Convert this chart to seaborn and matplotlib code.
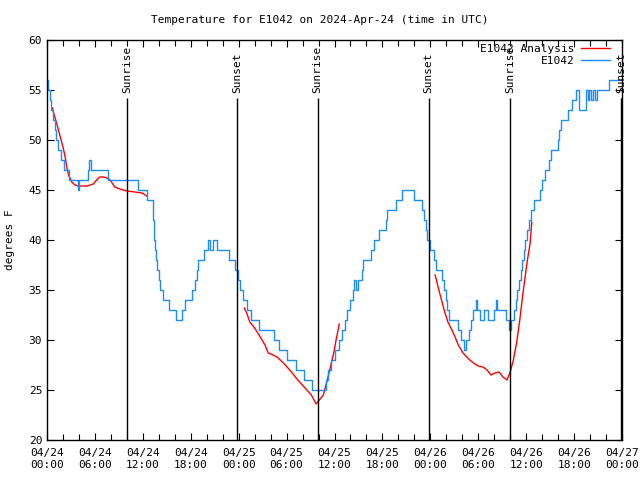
import numpy as np
import pandas as pd
import matplotlib
matplotlib.use("Agg")
import matplotlib.pyplot as plt
import seaborn as sns
from matplotlib.lines import Line2D

# ---- data (hours since 2024-04-24 00:00 UTC, degrees F) ----
obs_hours = [0.0, 0.15, 0.35, 0.55, 0.75, 0.95, 1.15, 1.4, 1.7, 2.1, 2.7, 3.9, 4.05, 5.1, 5.3, 5.55,
             7.65, 11.35, 12.55, 13.25, 13.3, 13.35, 13.45, 13.55, 13.65, 13.8, 14.0, 14.2, 14.5,
             15.3, 16.15, 16.85, 17.3, 18.2, 18.5, 18.75, 18.95, 19.6, 20.1, 20.35, 20.75, 21.3,
             22.8, 23.6, 23.9, 24.2, 24.5, 25.1, 25.5, 26.6, 28.4, 29.1, 30.1, 31.2, 32.2, 33.2,
             34.9, 35.2, 35.6, 36.0, 36.6, 37.0, 37.3, 37.6, 37.9, 38.3, 38.5, 38.75, 38.95,
             39.5, 39.6, 40.6, 41.0, 41.6, 42.4, 42.6, 43.7, 44.5, 45.9, 47.0, 47.2, 47.4, 47.6,
             48.0, 48.5, 48.7, 49.4, 49.7, 49.9, 50.1, 50.4, 51.5, 51.8, 52.2, 52.5, 52.9, 53.1,
             53.3, 53.7, 53.9, 54.2, 54.7, 55.2, 56.0, 56.2, 56.4, 57.5, 57.8, 58.1, 58.5, 58.7,
             58.9, 59.1, 59.3, 59.5, 59.7, 59.9, 60.1, 60.3, 60.6, 61.0, 61.75, 61.95, 62.35,
             62.9, 63.1, 63.95, 64.1, 64.3, 65.2, 65.8, 66.25, 66.6, 67.5, 67.7, 67.9, 68.1,
             68.4, 68.6, 68.9, 70.35, 72.0]
obs_temps = [56, 55, 54, 53, 52, 51, 50, 49, 48, 47, 46, 45, 46, 47, 48, 47,
             46, 45, 44, 43, 42, 41, 40, 39, 38, 37, 36, 35, 34,
             33, 32, 33, 34, 35, 36, 37, 38, 39, 40, 39, 40, 39,
             38, 37, 36, 35, 34, 33, 32, 31, 30, 29, 28, 27, 26, 25,
             26, 27, 28, 29, 30, 31, 32, 33, 34, 35, 36, 35, 36,
             37, 38, 39, 40, 41, 42, 43, 44, 45, 44, 43, 42, 41, 40,
             39, 38, 37, 36, 35, 34, 33, 32, 31, 30, 29, 30, 31, 32,
             33, 34, 33, 32, 33, 32, 33, 34, 33, 32, 31, 32, 33, 34,
             35, 36, 37, 38, 39, 40, 41, 42, 43, 44, 45, 46, 47,
             48, 49, 50, 51, 52, 53, 54, 55, 53, 55, 54, 55, 54,
             55, 54, 55, 56, 56]

ana_seg1_hours = [0.7, 0.8, 1.2, 1.6, 2.0, 2.3, 2.5, 2.7, 3.1, 3.5, 3.9, 5.0, 5.8, 6.2, 6.6, 7.1,
                  7.5, 7.9, 8.5, 9.1, 10.0, 11.0, 11.9, 12.5]
ana_seg1_temps = [53.2, 52.8, 51.7, 50.5, 49.3, 48.2, 47.2, 46.5, 45.8, 45.5, 45.4, 45.4, 45.6, 46.0,
                  46.3, 46.3, 46.2, 46.0, 45.3, 45.1, 44.9, 44.8, 44.7, 44.4]
ana_seg2_hours = [24.7, 25.0, 25.4, 26.0, 26.7, 27.3, 27.7, 28.3, 28.8, 29.6, 30.4, 31.3, 32.2, 33.1,
                  33.7, 34.0, 34.6, 35.0, 35.4, 35.9, 36.2, 36.6]
ana_seg2_temps = [33.2, 32.7, 31.8, 31.2, 30.3, 29.5, 28.7, 28.5, 28.3, 27.7, 27.0, 26.1, 25.3, 24.5,
                  23.6, 23.9, 24.5, 25.7, 27.0, 28.7, 30.0, 31.6]
ana_seg3_hours = [48.6, 49.0, 49.4, 49.8, 50.2, 50.7, 51.1, 51.5, 52.1, 52.8, 53.4, 54.0, 54.6, 55.1,
                  55.6, 56.1, 56.6, 57.1, 57.6, 58.0, 58.4, 58.8, 59.2, 59.6, 60.1, 60.5, 60.7]
ana_seg3_temps = [36.5, 35.2, 34.0, 32.8, 31.8, 31.0, 30.3, 29.5, 28.7, 28.1, 27.7, 27.4, 27.3, 27.0,
                  26.5, 26.7, 26.8, 26.3, 26.0, 26.8, 28.0, 29.7, 32.0, 34.7, 37.7, 39.7, 41.8]

sun_hours = [10.0, 23.8, 33.9, 47.8, 58.0, 71.9]
sun_labels = ["Sunrise", "Sunset", "Sunrise", "Sunset", "Sunrise", "Sunset"]

xtick_hours = [0, 6, 12, 18, 24, 30, 36, 42, 48, 54, 60, 66, 72]
xtick_labels = ["04/24\n00:00", "04/24\n06:00", "04/24\n12:00", "04/24\n18:00",
                "04/25\n00:00", "04/25\n06:00", "04/25\n12:00", "04/25\n18:00",
                "04/26\n00:00", "04/26\n06:00", "04/26\n12:00", "04/26\n18:00",
                "04/27\n00:00"]
ytick_values = [20, 25, 30, 35, 40, 45, 50, 55, 60]

title = "Temperature for E1042 on 2024-Apr-24 (time in UTC)"
ylabel = "degrees F"
legend_labels = ["E1042 Analysis", "E1042"]

# ---- plotting ----
plt.rcParams['font.family'] = ['DejaVu Sans Mono']
plt.rcParams['font.size'] = 8

fig = plt.figure(figsize=(6.4, 4.8), dpi=100)
ax = fig.add_axes([47/640, 1-440/480, 575/640, 400/480])

red = '#ff0000'
blue = '#1a8cff'

ana = pd.DataFrame({
    'hour': ana_seg1_hours + ana_seg2_hours + ana_seg3_hours,
    'temp': ana_seg1_temps + ana_seg2_temps + ana_seg3_temps,
    'seg': [1]*len(ana_seg1_hours) + [2]*len(ana_seg2_hours) + [3]*len(ana_seg3_hours),
})
obs = pd.DataFrame({'hour': obs_hours, 'temp': obs_temps})

sns.lineplot(data=ana, x='hour', y='temp', units='seg', estimator=None, sort=False,
             color=red, lw=1.0, ax=ax)
sns.lineplot(data=obs, x='hour', y='temp', estimator=None, sort=False,
             color=blue, lw=1.0, drawstyle='steps-post', ax=ax)

# sunrise / sunset markers
ax.vlines(sun_hours, 20, 54.2, colors='black', lw=1.0)
for h, lab in zip(sun_hours, sun_labels):
    ax.text(h, 54.65, lab, rotation=90, ha='center', va='bottom', fontsize=8)

ax.set_xlim(0, 72)
ax.set_ylim(20, 60)
ax.set_xticks(xtick_hours)
ax.set_xticklabels(xtick_labels)
ax.set_xticks(np.arange(0, 73, 2), minor=True)
ax.set_yticks(ytick_values)
ax.set_yticklabels([str(v) for v in ytick_values])
ax.tick_params(axis='both', which='both', direction='in', top=True, right=True,
               colors='black', labelsize=8)
ax.tick_params(axis='both', which='major', length=5, width=0.8)
ax.tick_params(axis='x', which='minor', length=4, width=0.8)
ax.tick_params(axis='x', which='major', pad=6)
for s in ax.spines.values():
    s.set_linewidth(1.0)
    s.set_color('black')
ax.set_xlabel('')
ax.set_ylabel(ylabel, fontsize=8, labelpad=10)
ax.grid(False)

handles = [Line2D([0], [0], color=red, lw=1.0), Line2D([0], [0], color=blue, lw=1.0)]
leg = ax.legend(handles, legend_labels, loc='upper right',
                bbox_to_anchor=((610-47)/575, (440-44)/400), frameon=False,
                markerfirst=False, fontsize=8, handlelength=2.6, borderaxespad=0.0,
                labelspacing=0.15, handletextpad=0.6, borderpad=0.0)
for t in leg.get_texts():
    t.set_ha('right')

fig.text(0.5, 1-20/480, title, ha='center', va='center', fontsize=8)

fig.savefig('out.png', dpi=100, facecolor='white')
